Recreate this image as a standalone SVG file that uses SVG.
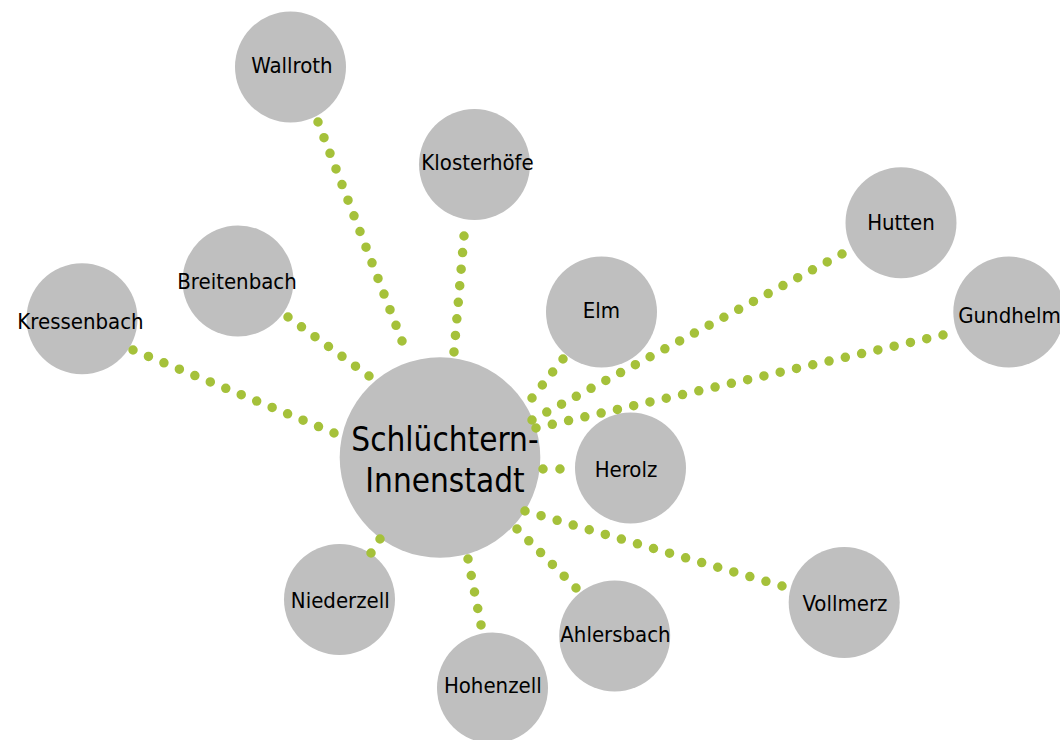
<svg xmlns="http://www.w3.org/2000/svg" width="1060" height="740" viewBox="0 0 1060 740">
<style>
.node{fill:#bfbfbf}
.lbl{font-family:"DejaVu Sans Condensed","DejaVu Sans",sans-serif;font-stretch:condensed;font-size:22px;fill:#000;text-anchor:middle}
.big{font-size:33px}
.dot{fill:none;stroke:#a5c13a;stroke-width:9.5;stroke-linecap:round;stroke-dasharray:0 10}
</style>
<rect width="1060" height="740" fill="#fff"/>
<g id="n-wallroth"><circle class="node" cx="290.5" cy="67" r="55.5"/><text class="lbl" x="292" y="73">Wallroth</text></g>
<g id="n-klosterhoefe"><circle class="node" cx="474.5" cy="164.5" r="55.5"/><text class="lbl" x="477.5" y="170">Klosterhöfe</text></g>
<g id="n-breitenbach"><circle class="node" cx="238" cy="281" r="55.5"/><text class="lbl" x="237" y="289">Breitenbach</text></g>
<g id="n-kressenbach"><circle class="node" cx="82" cy="318.7" r="55.5"/><text class="lbl" x="80.5" y="329">Kressenbach</text></g>
<g id="n-elm"><circle class="node" cx="601.5" cy="312" r="55.5"/><text class="lbl" x="601.5" y="318">Elm</text></g>
<g id="n-hutten"><circle class="node" cx="901" cy="222.8" r="55.5"/><text class="lbl" x="901" y="230">Hutten</text></g>
<g id="n-gundhelm"><circle class="node" cx="1008.8" cy="312" r="55.5"/><text class="lbl" x="1009.5" y="323">Gundhelm</text></g>
<g id="n-herolz"><circle class="node" cx="630.5" cy="468" r="55.5"/><text class="lbl" x="626" y="477">Herolz</text></g>
<g id="n-vollmerz"><circle class="node" cx="844.2" cy="602.5" r="55.5"/><text class="lbl" x="845" y="611">Vollmerz</text></g>
<g id="n-ahlersbach"><circle class="node" cx="614.7" cy="636" r="55.5"/><text class="lbl" x="615.5" y="641.5">Ahlersbach</text></g>
<g id="n-hohenzell"><circle class="node" cx="492.5" cy="688" r="55.5"/><text class="lbl" x="492.8" y="693.3">Hohenzell</text></g>
<g id="n-niederzell"><circle class="node" cx="339.5" cy="599.5" r="55.5"/><text class="lbl" x="340.3" y="608.3">Niederzell</text></g>
<g id="n-center"><circle class="node" cx="440" cy="457.5" r="100.3"/><text class="lbl big" x="445" y="451">Schlüchtern-</text><text class="lbl big" x="445" y="491.5">Innenstadt</text></g>
<g id="connectors">
<path class="dot" d="M133,350 L334,433" pathLength="130.01"/>
<path class="dot" d="M288,317 L369,376" pathLength="60.01"/>
<path class="dot" d="M318,122 L402,341" pathLength="140.01"/>
<path class="dot" d="M464,236 L454,352" pathLength="70.01"/>
<path class="dot" d="M563,359 L532,398" pathLength="30.01"/>
<path class="dot" d="M842,254 L532,420" pathLength="210.01"/>
<path class="dot" d="M943,335 L536,428" pathLength="250.01"/>
<path class="dot" d="M543,469 L560,469" pathLength="10.01"/>
<path class="dot" d="M525,511 L782,586" pathLength="160.01"/>
<path class="dot" d="M517,529 L576,588" pathLength="50.01"/>
<path class="dot" d="M468,559 L481,625" pathLength="40.01"/>
<path class="dot" d="M380,539 L371,553" pathLength="10.01"/>
</g>
</svg>
